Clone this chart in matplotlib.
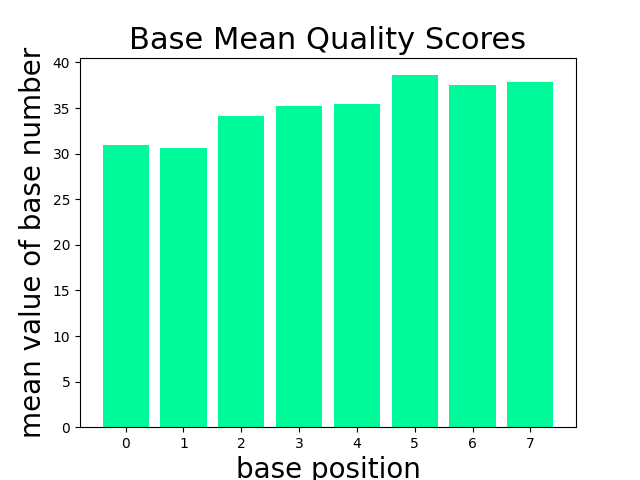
import matplotlib
matplotlib.use("Agg")
from matplotlib import pyplot as plt

# データ
positions = [0, 1, 2, 3, 4, 5, 6, 7]
mean_scores = [31.0, 30.6, 34.1, 35.2, 35.4, 38.6, 37.5, 37.9]

fig = plt.figure(figsize=(6.4, 4.8), dpi=100)
plt.bar(positions, mean_scores, color="mediumspringgreen")
plt.title("Base Mean Quality Scores", fontsize=22)
plt.xlabel("base position", fontsize=20)
plt.ylabel("mean value of base number", fontsize=20)
plt.savefig("out.png")
